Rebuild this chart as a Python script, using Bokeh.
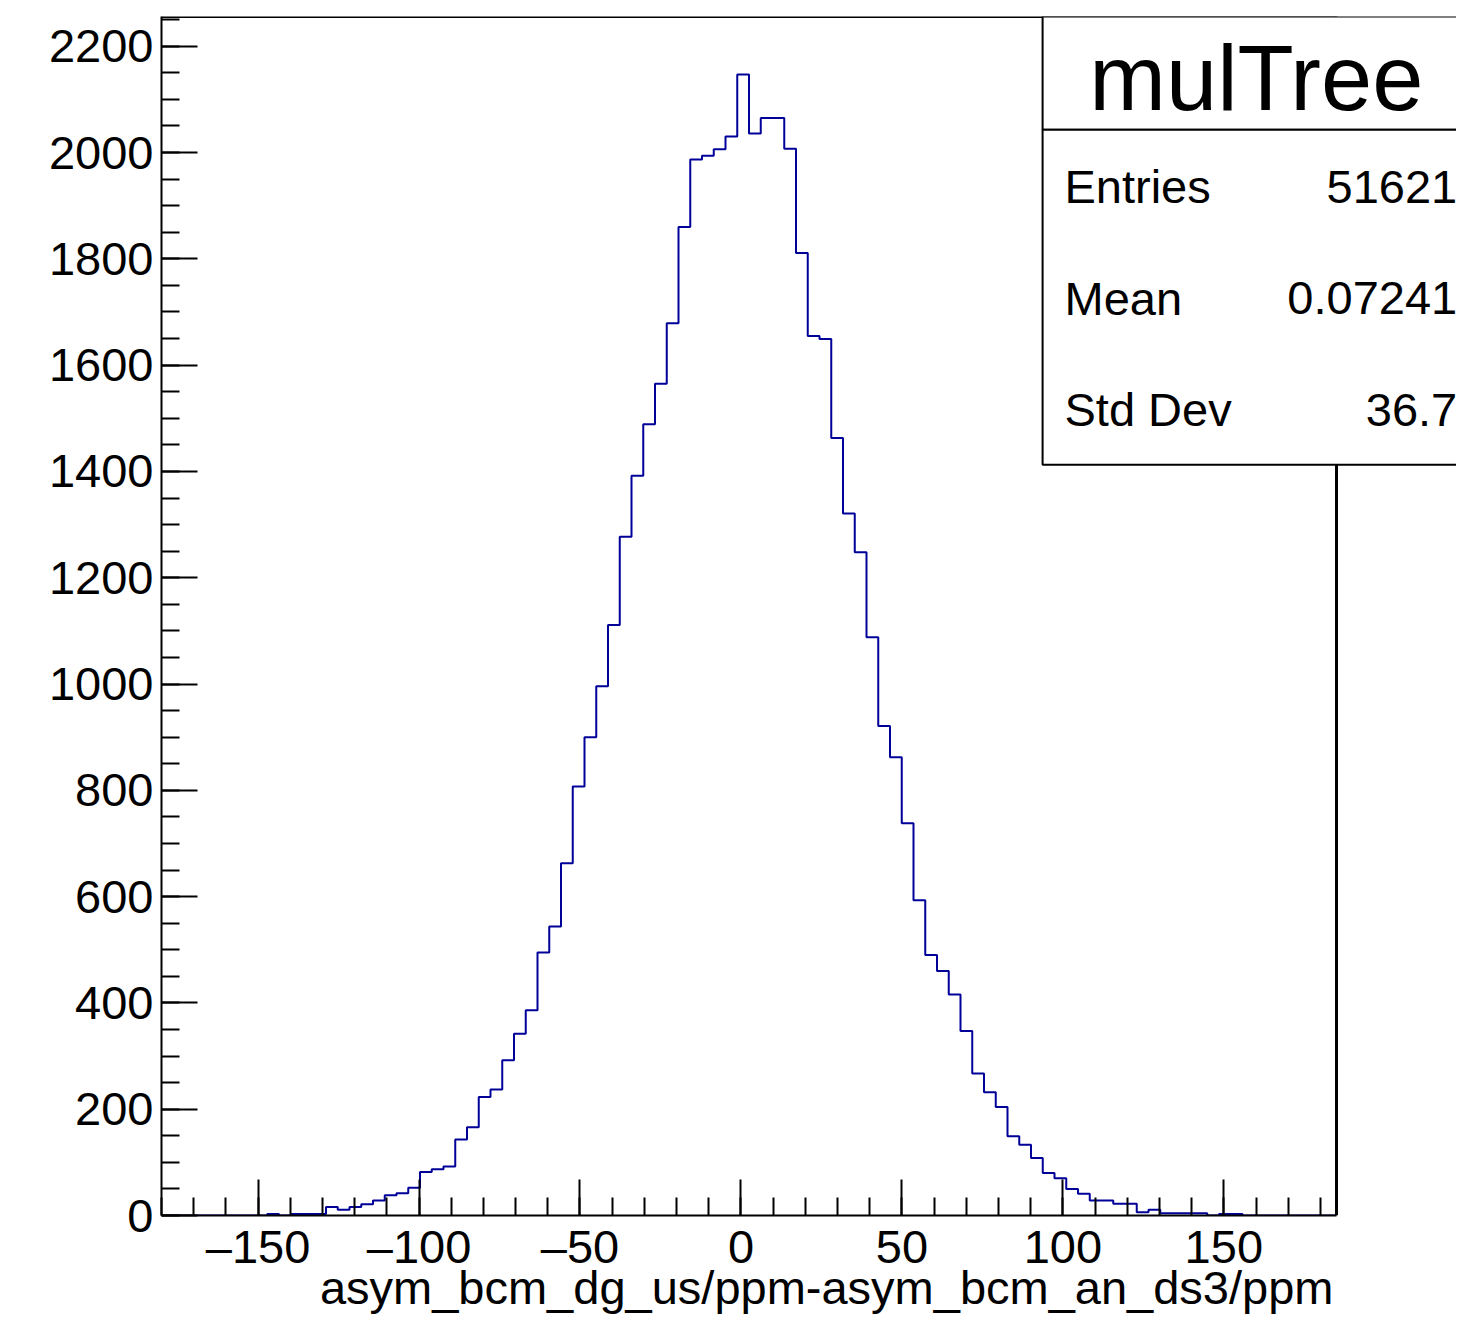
from bokeh.plotting import figure
from bokeh.models import Range1d, SingleIntervalTicker, Label, BoxAnnotation, CustomJSTickFormatter, Title
from bokeh.embed import file_html
from bokeh.resources import INLINE

# ---- data ----
x_min = -180.0
x_max = 185.0
y_max = 2256.0
counts = [
    0, 0, 0, 0, 0, 0, 0, 0, 0, 3,
    0, 3, 3, 3, 16, 11, 16, 21, 28, 38,
    42, 52, 82, 87, 92, 143, 166, 223, 237, 292,
    342, 386, 495, 544, 663, 807, 900, 996, 1111, 1277,
    1392, 1489, 1565, 1679, 1860, 1987, 1994, 2006, 2030, 2147,
    2036, 2065, 2065, 2007, 1811, 1655, 1649, 1463, 1321, 1248,
    1088, 921, 862, 738, 593, 490, 460, 416, 347, 267,
    232, 204, 149, 133, 108, 80, 70, 50, 41, 28,
    28, 22, 22, 6, 11, 4, 4, 4, 4, 0,
    3, 3, 0, 0, 0, 0, 0, 0, 0, 0,
]
hist_name = "mulTree"
x_title = "asym_bcm_dg_us/ppm-asym_bcm_an_ds3/ppm"
stat_names = ["Entries", "Mean", "Std Dev"]
stat_values = ["51621", "0.07241", "36.7"]

FONT = "Liberation Sans"
W, H = 1456, 1315
LEFT, TOP, BOTTOM = 161, 16, 100
HIST_PX = 1175  # pixel width of the histogram frame

n_bins = len(counts)
bw = (x_max - x_min) / n_bins
edges = [x_min + i * bw for i in range(n_bins + 1)]
step_y = counts + [counts[-1]]

# frame extends to the right edge of the canvas so that the stats box can overhang
scale = HIST_PX / (x_max - x_min)
x_end = x_min + (W - LEFT) / scale

p = figure(width=W, height=H, output_backend="svg", toolbar_location=None,
           x_range=Range1d(x_min, x_end), y_range=Range1d(0, y_max),
           min_border_left=LEFT, min_border_right=0, min_border_top=TOP, min_border_bottom=BOTTOM)
p.grid.visible = False
p.outline_line_color = None
p.background_fill_color = "white"
p.border_fill_color = "white"

p.xaxis.ticker = SingleIntervalTicker(interval=50, num_minor_ticks=5)
p.yaxis.ticker = SingleIntervalTicker(interval=200, num_minor_ticks=4)
p.xaxis.bounds = (x_min, x_max)
p.xaxis.formatter = CustomJSTickFormatter(code="return tick < 0 ? '\u2013' + Math.abs(tick) : String(tick);")
for ax in (p.xaxis[0], p.yaxis[0]):
    ax.major_tick_in = 36
    ax.major_tick_out = 0
    ax.minor_tick_in = 18
    ax.minor_tick_out = 0
    ax.major_tick_line_width = 2
    ax.minor_tick_line_width = 2
    ax.major_tick_line_color = "black"
    ax.minor_tick_line_color = "black"
    ax.axis_line_width = 2
    ax.axis_line_color = "black"
    ax.major_label_text_font = FONT
    ax.major_label_text_font_size = "47px"
    ax.major_label_text_color = "black"
p.xaxis.major_label_standoff = 4
p.yaxis.major_label_standoff = 8

# x axis title, right-aligned below the axis (ROOT style)
p.add_layout(Title(text=x_title, align="right", offset=123, standoff=-34,
                   text_font=FONT, text_font_size="47px", text_font_style="normal",
                   text_color="black"), "below")

p.step(x=edges, y=step_y, mode="after", line_color="#000099", line_width=2)

# frame: top and right edges of the histogram pad
p.segment(x0=[x_min, x_max], y0=[y_max, 0], x1=[x_max, x_max], y1=[y_max, y_max],
          line_color="black", line_width=3)

# stats box
box_left = 93.7
box_right = x_end + 10
box_sep = 2042.8
box_bottom = 1412.5
for b, t in ((box_sep, y_max), (box_bottom, box_sep)):
    p.add_layout(BoxAnnotation(left=box_left, right=box_right, bottom=b, top=t,
                               fill_color="white", fill_alpha=1.0, line_color="black",
                               line_alpha=1.0, line_width=2, level="overlay"))
p.add_layout(Label(x=160.1, y=2140, text=hist_name, text_align="center", text_baseline="middle",
                   text_font=FONT, text_font_size="92px", text_color="black", level="overlay"))
stat_y = [1936, 1726, 1516]
for name, val, yy in zip(stat_names, stat_values, stat_y):
    p.add_layout(Label(x=100.5, y=yy, text=name, text_align="left", text_baseline="middle",
                       text_font=FONT, text_font_size="47px", text_color="black", level="overlay"))
    p.add_layout(Label(x=222.5, y=yy, text=val, text_align="right", text_baseline="middle",
                       text_font=FONT, text_font_size="47px", text_color="black", level="overlay"))

open("out.html", "w").write(file_html(p, INLINE))
